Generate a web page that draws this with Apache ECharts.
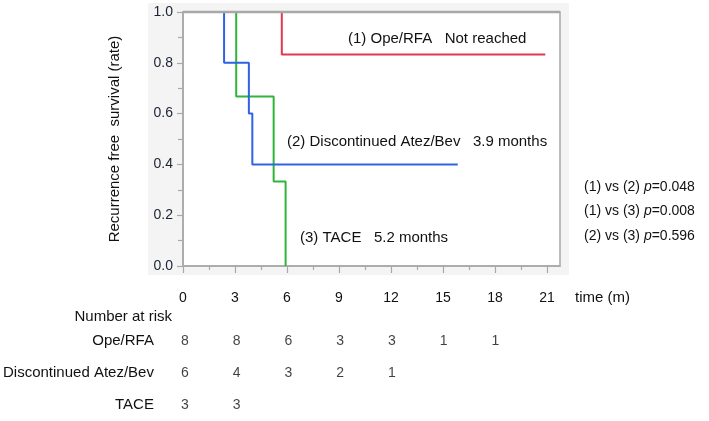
<!DOCTYPE html>
<html>
<head>
<meta charset="utf-8">
<script src="https://cdn.jsdelivr.net/npm/echarts@6/dist/echarts.min.js"></script>
<style>
html,body{margin:0;padding:0;background:#fff;}
#c{width:709px;height:421px;}
</style>
</head>
<body>
<div id="c"></div>
<script>
// ---- data ----
const groups = ['Ope/RFA', 'Discontinued Atez/Bev', 'TACE'];
// Kaplan-Meier step points [time (months), survival]
const opeRfa = [[0, 1], [5.7, 0.833], [20.9, 0.833]];
const discAtezBev = [[0, 1], [2.37, 0.8], [3.8, 0.6], [4.0, 0.4], [15.85, 0.4]];
const tace = [[0, 1], [3.07, 0.667], [5.23, 0.333], [5.92, 0]];
// number at risk
const riskTimes = [0, 3, 6, 9, 12, 15, 18];
const riskOpe = [8, 8, 6, 3, 3, 1, 1];
const riskDisc = [6, 4, 3, 2, 1];
const riskTace = [3, 3];
// ticks
const xTickLabels = [0, 3, 6, 9, 12, 15, 18, 21];
const xMinorTicks = [1.5, 4.5, 7.5, 10.5, 13.5, 16.5, 19.5];
const yTickLabels = ['0.0', '0.2', '0.4', '0.6', '0.8', '1.0'];
// texts
const curveNotes = ['(1) Ope/RFA   Not reached', '(2) Discontinued Atez/Bev   3.9 months', '(3) TACE   5.2 months'];
const pComparisons = ['(1) vs (2)', '(1) vs (3)', '(2) vs (3)'];
const pValues = ['0.048', '0.008', '0.596'];

const FONT = '"Liberation Sans", Arial, sans-serif';
const AXIS_C = '#a8a8a8';
const TXT = '#111';

const riskData = [];
[riskOpe, riskDisc, riskTace].forEach((arr, gi) => {
  arr.forEach((n, i) => riskData.push([riskTimes[i], gi, n]));
});

const chart = echarts.init(document.getElementById('c'), null, {renderer: 'canvas'});

const X_MAX = 21.75;
const noteText = (txt, x, y, z) => ({type: 'text', x: x, y: y, z: z || 50,
  style: {text: txt, font: '15px ' + FONT, fill: TXT, verticalAlign: 'middle'}});

const graphics = [
  {type: 'rect', z: -10, shape: {x: 148, y: 3, width: 421, height: 272}, style: {fill: '#f4f4f4'}},
  {type: 'rect', z: -9, shape: {x: 183, y: 12, width: 377, height: 254}, style: {fill: '#fff', stroke: AXIS_C, lineWidth: 1.5}},
  {type: 'line', z: 100, shape: {x1: 183, y1: 12, x2: 560, y2: 12}, style: {stroke: AXIS_C, lineWidth: 2.6}},
  noteText(curveNotes[0], 348, 39),
  noteText(curveNotes[1], 287, 142),
  noteText(curveNotes[2], 300, 238),
  {type: 'text', x: 575, y: 298, style: {text: 'time (m)', font: '15px ' + FONT, fill: TXT, verticalAlign: 'middle'}},
  {type: 'text', x: 172, y: 317, style: {text: 'Number at risk', font: '15px ' + FONT, fill: TXT, align: 'right', verticalAlign: 'middle'}}
];
const pYs = [187, 211, 236];
pComparisons.forEach((c, i) => {
  graphics.push({type: 'text', x: 584, y: pYs[i], style: {
    text: c + ' {i|p}=' + pValues[i], font: '14px ' + FONT, fill: TXT, verticalAlign: 'middle',
    rich: {i: {fontStyle: 'italic', fontSize: 14, fontFamily: FONT, fill: TXT}}
  }});
});

const option = {
  animation: false,
  textStyle: {fontFamily: FONT},
  grid: [
    {left: 183, top: 12, width: 377, height: 254, show: false},
    {left: 183, top: 325, width: 377, height: 102, show: false}
  ],
  xAxis: [
    {gridIndex: 0, type: 'value', min: 0, max: X_MAX,
     axisLine: {show: true, lineStyle: {color: AXIS_C, width: 1.5}},
     axisTick: {show: true, customValues: xTickLabels, length: 7, lineStyle: {color: AXIS_C, width: 1.2}},
     axisLabel: {customValues: xTickLabels, margin: 25, fontSize: 14, color: TXT, fontFamily: FONT},
     splitLine: {show: false}},
    {gridIndex: 0, type: 'value', min: 0, max: X_MAX, position: 'bottom',
     axisLine: {show: false},
     axisTick: {show: true, customValues: xMinorTicks, length: 4, lineStyle: {color: AXIS_C, width: 1.2}},
     axisLabel: {show: false}, splitLine: {show: false}},
    {gridIndex: 1, type: 'value', min: 0, max: X_MAX, show: false}
  ],
  yAxis: [
    {gridIndex: 0, type: 'value', min: 0, max: 1, interval: 0.2,
     name: 'Recurrence free  survival (rate)', nameLocation: 'middle', nameGap: 61, nameRotate: 90,
     nameTextStyle: {fontSize: 15, color: TXT, fontFamily: FONT},
     axisLine: {show: true, lineStyle: {color: AXIS_C, width: 1.5}},
     axisTick: {show: true, length: 6, lineStyle: {color: AXIS_C, width: 1.2}},
     minorTick: {show: true, splitNumber: 2, length: 5, lineStyle: {color: AXIS_C, width: 1.2}},
     axisLabel: {margin: 10, fontSize: 14, color: '#1c2233', fontFamily: FONT,
       formatter: v => yTickLabels[Math.round(v / 0.2)]},
     splitLine: {show: false}},
    {gridIndex: 1, type: 'category', data: groups, inverse: true,
     axisLine: {show: false}, axisTick: {show: false},
     axisLabel: {margin: 31, fontSize: 15, color: TXT, fontFamily: FONT},
     splitLine: {show: false}}
  ],
  series: [
    {type: 'line', name: groups[0], xAxisIndex: 0, yAxisIndex: 0, step: 'end', data: opeRfa,
     showSymbol: false, symbol: 'none', lineStyle: {color: '#e2384e', width: 2}, z: 5},
    {type: 'line', name: groups[1], xAxisIndex: 0, yAxisIndex: 0, step: 'end', data: discAtezBev,
     showSymbol: false, symbol: 'none', lineStyle: {color: '#2f63e3', width: 2}, z: 5},
    {type: 'line', name: groups[2], xAxisIndex: 0, yAxisIndex: 0, step: 'end', data: tace,
     showSymbol: false, symbol: 'none', lineStyle: {color: '#2fb53a', width: 2}, z: 4},
    {type: 'scatter', xAxisIndex: 2, yAxisIndex: 1, data: riskData, symbolSize: 1,
     itemStyle: {color: 'rgba(0,0,0,0)'}, silent: true,
     label: {show: true, position: 'inside', formatter: p => String(p.value[2]),
       fontSize: 14, color: TXT, fontFamily: FONT}}
  ],
  graphic: graphics
};
chart.setOption(option);
</script>
</body>
</html>
